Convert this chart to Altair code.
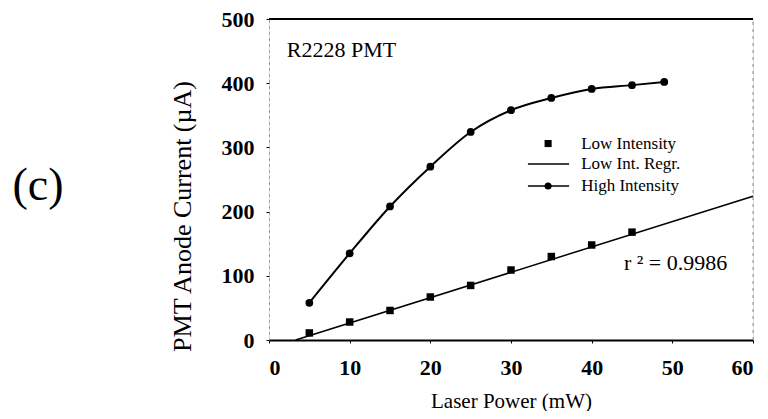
import altair as alt
import pandas as pd

# ---- data ----
low_power = [5, 10, 15, 20, 25, 30, 35, 40, 45]
low_current = [11, 28, 46, 67, 85, 109, 130, 148, 168]

high_power = [5, 10, 15, 20, 25, 30, 35, 40, 45, 49]
high_current = [58, 135, 208, 270, 324, 358, 377, 391, 397, 402]

regr_power = [3.3, 60]
regr_current = [0, 224]

x_ticks = [0, 10, 20, 30, 40, 50, 60]
y_ticks = [0, 100, 200, 300, 400, 500]

legend_labels = ["Low Intensity", "Low Int. Regr.", "High Intensity"]
legend_current = [306, 274, 240]
legend_sym_x = [34.6, 34.6, 34.6]
legend_line_x0 = [32.1, 32.1, 32.1]
legend_line_x1 = [37.2, 37.2, 37.2]
legend_text_x = [38.7, 38.7, 38.7]

panel_label = "(c)"
inset_title = "R2228 PMT"
r2_label = "r ² = 0.9986"

FONT = "Liberation Serif"

low_df = pd.DataFrame({"p": low_power, "c": low_current})
high_df = pd.DataFrame({"p": high_power, "c": high_current})
regr_df = pd.DataFrame({"p": regr_power, "c": regr_current})

xs = alt.Scale(domain=[0, 60], nice=False, zero=False)
ys = alt.Scale(domain=[0, 500], nice=False, zero=False)

x_axis = alt.Axis(
    values=x_ticks, grid=False, domainColor="black", domainWidth=2,
    tickColor="black", tickSize=3, labelFont=FONT, labelFontSize=22,
    labelFontWeight="bold", labelColor="black", labelPadding=14,
    title="Laser Power (mW)", titleFont=FONT, titleFontSize=21,
    titleFontWeight="normal", titleColor="black",
    titleBaseline="alphabetic", titleY=67, titleX=242,
)
y_axis = alt.Axis(
    values=y_ticks, grid=False, domainColor="#888888", domainDash=[2, 4],
    domainWidth=1, tickColor="black", tickSize=3, labelFont=FONT,
    labelFontSize=22, labelFontWeight="bold", labelColor="black",
    labelPadding=12, title="PMT Anode Current (µA)", titleFont=FONT,
    titleFontSize=26, titleFontWeight="normal", titleColor="black",
    titleAngle=270, titleAlign="center", titleBaseline="middle",
    titleX=-87, titleY=197,
)

base_x = alt.X("p:Q", scale=xs, axis=x_axis)
base_y = alt.Y("c:Q", scale=ys, axis=y_axis)

low_pts = alt.Chart(low_df).mark_square(size=56, color="black", opacity=1).encode(x=base_x, y=base_y)
regr_line = alt.Chart(regr_df).mark_line(color="black", strokeWidth=1.5).encode(x="p:Q", y="c:Q")
high_line = alt.Chart(high_df).mark_line(color="black", strokeWidth=2, interpolate="monotone").encode(x="p:Q", y="c:Q")
high_pts = alt.Chart(high_df).mark_circle(size=60, color="black", opacity=1).encode(x="p:Q", y="c:Q")

frame_df = pd.DataFrame({"x0": [0], "x1": [60], "y0": [0], "y1": [500]})
top_rule = alt.Chart(frame_df).mark_rule(color="black", strokeWidth=2).encode(
    x="x0:Q", x2="x1:Q", y="y1:Q")
right_rule = alt.Chart(frame_df).mark_rule(color="#888888", strokeWidth=1, strokeDash=[3, 4]).encode(
    x="x1:Q", y="y0:Q", y2="y1:Q")

leg_df = pd.DataFrame({
    "label": legend_labels, "c": legend_current, "sx": legend_sym_x,
    "lx0": legend_line_x0, "lx1": legend_line_x1, "tx": legend_text_x,
})
leg_sq = alt.Chart(leg_df).transform_filter(alt.datum.label == "Low Intensity").mark_square(
    size=50, color="black", opacity=1).encode(x="sx:Q", y="c:Q")
leg_lines = alt.Chart(leg_df).transform_filter(alt.datum.label != "Low Intensity").mark_rule(
    color="black", strokeWidth=1.5).encode(x="lx0:Q", x2="lx1:Q", y="c:Q")
leg_circ = alt.Chart(leg_df).transform_filter(alt.datum.label == "High Intensity").mark_circle(
    size=50, color="black", opacity=1).encode(x="sx:Q", y="c:Q")
leg_text = alt.Chart(leg_df).mark_text(
    font=FONT, fontSize=17, align="left", baseline="middle", color="black").encode(
    x="tx:Q", y="c:Q", text="label:N")

ann_df = pd.DataFrame({"p": [2.2, 44.0], "c": [441, 109], "t": [inset_title, r2_label]})
ann_text = alt.Chart(ann_df).mark_text(
    font=FONT, fontSize=22, align="left", baseline="alphabetic", color="black").encode(
    x="p:Q", y="c:Q", text="t:N")

panel_text = alt.Chart(pd.DataFrame({"t": [panel_label]})).mark_text(
    font=FONT, fontSize=46, align="center", baseline="middle", color="black").encode(
    x=alt.value(-231), y=alt.value(167), text="t:N")

chart = alt.layer(
    low_pts, regr_line, high_line, high_pts, top_rule, right_rule,
    leg_sq, leg_lines, leg_circ, leg_text, ann_text, panel_text,
).properties(
    width=484, height=321,
    autosize=alt.AutoSizeParams(type="none"),
    padding={"left": 261, "top": 11, "right": 7, "bottom": 71},
).configure_view(stroke=None).configure(background="white")

chart.save("out.html", embed_options={"renderer": "svg", "actions": False})
